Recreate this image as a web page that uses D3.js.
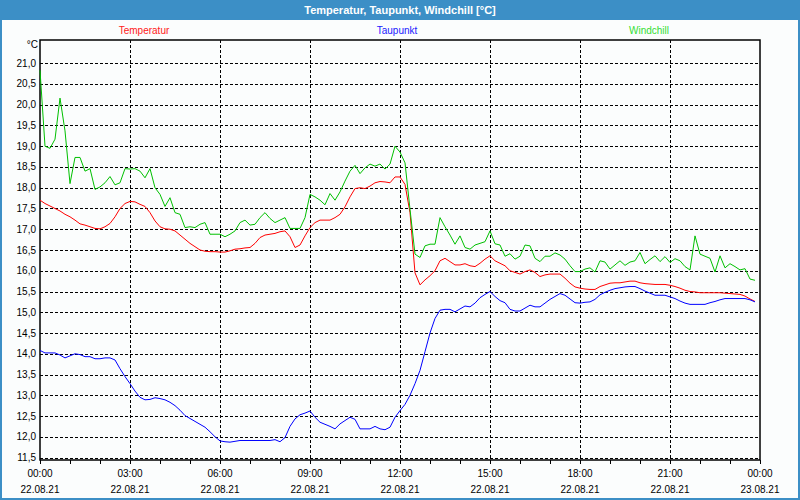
<!DOCTYPE html>
<html>
<head>
<meta charset="utf-8">
<script src="https://cdn.jsdelivr.net/npm/d3@7"></script>
<style>
  html, body { margin: 0; padding: 0; background: #fff; }
  svg { display: block; font-family: "Liberation Sans", Arial, sans-serif; }
</style>
</head>
<body>
<div id="chart"></div>
<script>
const width = 800;
const height = 500;

// samples every 10 minutes, 22.08.21 00:00 .. 23:50
const startTime = new Date(2021, 7, 22, 0, 0);
const endTime = new Date(2021, 7, 23, 0, 0);

const temperatur = [
  17.70, 17.62, 17.56, 17.50, 17.44, 17.36, 17.30, 17.22, 17.13, 17.10, 17.06, 17.02,
  17.01, 17.06, 17.14, 17.30, 17.50, 17.62, 17.67, 17.66, 17.60, 17.55, 17.40, 17.20,
  17.06, 17.01, 17.00, 16.96, 16.86, 16.76, 16.66, 16.58, 16.50, 16.47, 16.46, 16.46,
  16.45, 16.45, 16.48, 16.52, 16.53, 16.55, 16.56, 16.66, 16.80, 16.86, 16.88, 16.90,
  16.94, 16.96, 16.82, 16.56, 16.62, 16.84, 17.04, 17.16, 17.22, 17.22, 17.22, 17.28,
  17.36, 17.54, 17.78, 17.98, 18.00, 17.98, 18.04, 18.12, 18.15, 18.14, 18.12, 18.26,
  18.26, 18.08, 17.40, 15.95, 15.66, 15.78, 15.88, 16.00, 16.24, 16.30, 16.22, 16.14,
  16.14, 16.17, 16.12, 16.10, 16.18, 16.28, 16.36, 16.24, 16.18, 16.12, 16.00, 15.96,
  15.92, 15.98, 16.02, 15.96, 15.86, 15.90, 15.92, 15.92, 15.92, 15.82, 15.70, 15.61,
  15.58, 15.56, 15.55, 15.55, 15.62, 15.66, 15.70, 15.71, 15.71, 15.73, 15.75, 15.75,
  15.71, 15.69, 15.68, 15.67, 15.67, 15.67, 15.65, 15.62, 15.58, 15.53, 15.50, 15.49,
  15.47, 15.47, 15.47, 15.47, 15.47, 15.46, 15.45, 15.44, 15.43, 15.39, 15.32, 15.26
];

const taupunkt = [
  14.08, 14.02, 14.02, 14.02, 13.97, 13.90, 13.95, 14.00, 13.98, 13.93, 13.93, 13.88,
  13.88, 13.90, 13.90, 13.85, 13.64, 13.45, 13.28, 13.10, 12.95, 12.89, 12.90, 12.94,
  12.92, 12.89, 12.83, 12.75, 12.64, 12.51, 12.44, 12.37, 12.30, 12.23, 12.12, 12.00,
  11.90, 11.88, 11.87, 11.89, 11.91, 11.91, 11.91, 11.91, 11.91, 11.91, 11.91, 11.93,
  11.88, 11.98, 12.25, 12.43, 12.53, 12.57, 12.62, 12.47, 12.35, 12.30, 12.25, 12.19,
  12.31, 12.39, 12.47, 12.42, 12.19, 12.19, 12.19, 12.25, 12.19, 12.17, 12.23, 12.47,
  12.63, 12.78, 13.00, 13.28, 13.60, 14.05, 14.50, 14.85, 15.05, 15.07, 15.07, 15.01,
  15.08, 15.15, 15.13, 15.22, 15.35, 15.43, 15.50, 15.38, 15.28, 15.23, 15.07, 15.03,
  15.03, 15.10, 15.17, 15.13, 15.13, 15.22, 15.31, 15.38, 15.45, 15.41, 15.32, 15.23,
  15.22, 15.24, 15.25, 15.31, 15.42, 15.48, 15.53, 15.57, 15.59, 15.61, 15.62, 15.62,
  15.57, 15.51, 15.46, 15.41, 15.41, 15.41, 15.37, 15.33, 15.27, 15.22, 15.19, 15.19,
  15.19, 15.19, 15.23, 15.26, 15.30, 15.33, 15.33, 15.33, 15.33, 15.33, 15.30, 15.25
];

const windchill = [
  20.83, 19.00, 18.95, 19.17, 20.16, 19.37, 18.10, 18.73, 18.73, 18.40, 18.46, 17.96,
  18.02, 18.12, 18.27, 18.07, 18.12, 18.46, 18.45, 18.46, 18.40, 18.24, 18.46, 18.00,
  17.84, 17.55, 17.76, 17.40, 17.36, 17.04, 17.06, 17.04, 17.12, 17.16, 16.88, 16.88,
  16.88, 16.82, 16.88, 16.96, 17.16, 17.22, 17.10, 17.12, 17.28, 17.40, 17.26, 17.16,
  17.22, 17.28, 17.02, 17.02, 17.02, 17.28, 17.84, 17.78, 17.70, 17.59, 17.86, 17.70,
  17.90, 18.16, 18.40, 18.54, 18.34, 18.48, 18.57, 18.52, 18.57, 18.45, 18.57, 19.00,
  18.86, 18.60, 17.48, 16.40, 16.32, 16.60, 16.64, 16.64, 17.28, 17.06, 16.86, 16.64,
  16.84, 16.56, 16.52, 16.62, 16.66, 16.70, 16.96, 16.65, 16.62, 16.35, 16.41, 16.28,
  16.35, 16.62, 16.60, 16.30, 16.22, 16.35, 16.35, 16.43, 16.38, 16.28, 16.12, 15.98,
  15.98, 16.04, 16.07, 15.97, 16.24, 16.21, 16.04, 16.14, 16.24, 16.13, 16.21, 16.24,
  16.44, 16.17, 16.27, 16.36, 16.22, 16.34, 16.20, 16.29, 16.24, 16.10, 16.02, 16.84,
  16.40, 16.35, 16.30, 15.97, 16.36, 16.07, 16.17, 16.10, 16.02, 16.05, 15.80, 15.77
];

const series = [
  { name: 'Temperatur', values: temperatur, color: '#ff0000', legendColor: '#ff2020', lx: 144 },
  { name: 'Taupunkt', values: taupunkt, color: '#0000ff', legendColor: '#2020ff', lx: 397 },
  { name: 'Windchill', values: windchill, color: '#00c000', legendColor: '#33dd33', lx: 649 }
];

const yTicks = d3.range(11.5, 21.01, 0.5);
const timeOf = i => new Date(startTime.getTime() + i * 10 * 60 * 1000);

const margin = { top: 40, right: 40, bottom: 40, left: 40 };
const plotW = width - margin.left - margin.right;
const plotH = height - margin.top - margin.bottom;

const x = d3.scaleTime()
  .domain([startTime, endTime])
  .range([margin.left, margin.left + plotW]);

const y = d3.scaleLinear()
  .domain([11.44, 21.56])
  .range([margin.top + plotH, margin.top]);

const svg = d3.select('#chart')
  .append('svg')
  .attr('width', width)
  .attr('height', height);

// window frame
svg.append('rect')
  .attr('x', 0).attr('y', 0)
  .attr('width', width).attr('height', height)
  .attr('fill', '#3c8fc6');
svg.append('rect')
  .attr('x', 2).attr('y', 20)
  .attr('width', width - 4).attr('height', height - 22)
  .attr('fill', '#fbfdfd');

svg.append('text')
  .attr('x', width / 2)
  .attr('y', 14)
  .attr('text-anchor', 'middle')
  .attr('fill', '#ffffff')
  .style('font-size', '11px')
  .style('font-weight', 'bold')
  .text('Temperatur, Taupunkt, Windchill [°C]');

// legend
series.forEach(s => {
  svg.append('text')
    .attr('x', s.lx)
    .attr('y', 34)
    .attr('text-anchor', 'middle')
    .attr('fill', s.legendColor)
    .style('font-size', '10px')
    .text(s.name);
});

svg.append('text')
  .attr('x', 38)
  .attr('y', 48)
  .attr('text-anchor', 'end')
  .attr('fill', '#000')
  .style('font-size', '10px')
  .text('°C');

// grid
const grid = svg.append('g')
  .attr('stroke', '#000')
  .attr('stroke-width', 1)
  .attr('stroke-dasharray', '3,2')
  .attr('shape-rendering', 'crispEdges');

grid.selectAll('line.h')
  .data(yTicks)
  .enter()
  .append('line')
  .attr('x1', margin.left)
  .attr('x2', margin.left + plotW)
  .attr('y1', d => Math.round(y(d)) + 0.5)
  .attr('y2', d => Math.round(y(d)) + 0.5);

const vTicks = d3.timeHour.every(3).range(startTime, endTime).slice(1);
grid.selectAll('line.v')
  .data(vTicks)
  .enter()
  .append('line')
  .attr('x1', d => Math.round(x(d)) + 0.5)
  .attr('x2', d => Math.round(x(d)) + 0.5)
  .attr('y1', margin.top)
  .attr('y2', margin.top + plotH);

// y axis labels
svg.append('g')
  .selectAll('text')
  .data(yTicks)
  .enter()
  .append('text')
  .attr('x', 36)
  .attr('y', d => y(d))
  .attr('dy', '0.35em')
  .attr('text-anchor', 'end')
  .attr('fill', '#000')
  .style('font-size', '10px')
  .text(d => d3.format('.1f')(d).replace('.', ','));

// x axis ticks (hourly) and labels
const xAxis = d3.axisBottom(x)
  .ticks(d3.timeHour.every(1))
  .tickSize(4)
  .tickFormat('');
svg.append('g')
  .attr('transform', `translate(0,${margin.top + plotH})`)
  .call(xAxis)
  .call(g => g.select('.domain').remove())
  .call(g => g.selectAll('line').attr('stroke', '#000').attr('shape-rendering', 'crispEdges'));

const labelTicks = d3.timeHour.every(3).range(startTime, d3.timeMinute.offset(endTime, 1));
const lbl = svg.append('g')
  .selectAll('g')
  .data(labelTicks)
  .enter()
  .append('g')
  .attr('transform', d => `translate(${x(d)},0)`);
lbl.append('text')
  .attr('y', 477)
  .attr('text-anchor', 'middle')
  .style('font-size', '10px')
  .text(d => d3.timeFormat('%H:%M')(d));
lbl.append('text')
  .attr('y', 493)
  .attr('text-anchor', 'middle')
  .style('font-size', '10px')
  .text(d => d3.timeFormat('%d.%m.%y')(d));

// plot frame
svg.append('rect')
  .attr('x', margin.left)
  .attr('y', margin.top)
  .attr('width', plotW)
  .attr('height', plotH)
  .attr('fill', 'none')
  .attr('stroke', '#000')
  .attr('stroke-width', 1.5);

// lines
const line = d3.line()
  .x((d, i) => x(timeOf(i)))
  .y(d => y(d));

svg.append('g')
  .selectAll('path')
  .data(series)
  .enter()
  .append('path')
  .attr('d', d => line(d.values))
  .attr('fill', 'none')
  .attr('stroke', d => d.color)
  .attr('stroke-width', 1);
</script>
</body>
</html>
